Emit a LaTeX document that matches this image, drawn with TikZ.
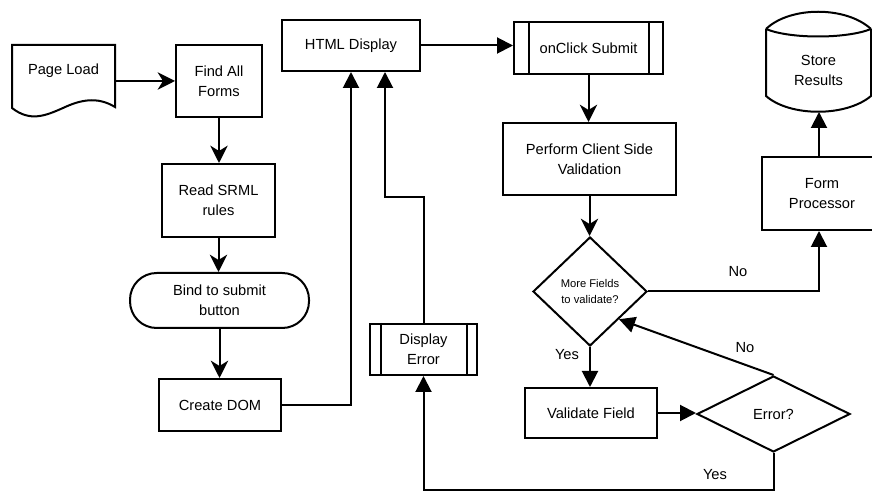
\documentclass[tikz,border=0pt]{standalone}
\usepackage{fontspec}
\setmainfont{Liberation Sans}
\usetikzlibrary{arrows.meta,shapes.geometric}

\begin{document}
\begin{tikzpicture}[x=0.75pt,y=-0.75pt,line width=1.5pt,
  every node/.style={font=\fontsize{11}{15}\selectfont,align=center,inner sep=0pt},
  flow/.style={draw,rectangle},
  sz/.style 2 args={minimum width=#1*0.75pt,minimum height=#2*0.75pt},
  decision/.style={draw,diamond},
  blk/.style={-{Triangle[length=12pt,width=12pt]}},
  stl/.style={-{Stealth[length=13pt,width=13pt,inset=4pt]}}]

\useasboundingbox (0,0) rectangle (872,491);

% document shape for the page load
\draw (12,45) -- (115,45) -- (115,107)
  .. controls (97,96) and (80,100) .. (63,108)
  .. controls (45,116) and (30,122) .. (12,108) -- cycle;
\node[sz={103}{52}] (pageload) at (63.5,71) {Page Load};

% storage cylinder
\draw (766,29) .. controls (790,6) and (846,6) .. (871,29);
\draw (766,29) .. controls (790,39) and (846,39) .. (871,29);
\draw (766,29) -- (766,96) .. controls (790,117) and (846,117) .. (871,96) -- (871,29);
\node (store) at (818.5,70) {Store\\Results};
\coordinate (storebot) at (819,112);

% process steps
\node[flow,sz={86}{72}]  (find)     at (219,81)     {Find All\\Forms};
\node[flow,sz={113}{73}] (read)     at (218.5,200.5){Read SRML\\rules};
\node[flow,rounded corners=20pt,sz={179}{55}] (bind) at (219.5,300.5) {Bind to submit\\button};
\node[flow,sz={122}{52}] (dom)      at (220,405)    {Create DOM};
\node[flow,sz={138}{51}] (html)     at (351,45.5)   {HTML Display};
\node[flow,sz={149}{52}] (onclick)  at (588.5,48)   {onClick Submit};
\node[flow,sz={173}{72}] (perform)  at (589.5,159)  {Perform Client Side\\Validation};
\node[decision,sz={114}{109},font=\fontsize{8.4}{12}\selectfont] (more) at (590,291.5) {More Fields\\to validate?};
\node[flow,sz={132}{50}] (validate) at (591,413)    {Validate Field};
\node[decision,sz={153}{76}] (error) at (773.5,414) {Error?};
\node[flow,sz={107}{51}] (derr)     at (423.5,349.5){Display\\Error};
\node[flow,sz={120}{73}] (proc)     at (822,193.5)  {Form\\Processor};
\coordinate (procaxis) at (819,193.5);

% predefined-process side bars
\draw ([xshift=12pt]onclick.north west) -- ([xshift=12pt]onclick.south west);
\draw ([xshift=-11.25pt]onclick.north east) -- ([xshift=-11.25pt]onclick.south east);
\draw ([xshift=9pt]derr.north west) -- ([xshift=9pt]derr.south west);
\draw ([xshift=-8.25pt]derr.north east) -- ([xshift=-8.25pt]derr.south east);

% branch labels
\node (noa)  at (738,272) {No};
\node (nob)  at (745,348) {No};
\node (yesa) at (567,355) {Yes};
\node (yesb) at (715,475) {Yes};

% connectors
\coordinate (bend) at (385,197);
\coordinate (floor) at (0,490);
\draw[stl] (pageload.east |- find.west) -- (find.west);
\draw[stl] (find.south) -- (find.south |- read.north);
\draw[stl] (read.south) -- (read.south |- bind.north);
\draw[stl] (bind.south) -- (bind.south |- dom.north);
\draw[blk] (dom.east) -| (html.south);
\draw[blk] (derr.north) |- (bend) -- (bend |- html.south);
\draw[blk] (html.east) -- (html.east -| onclick.west);
\draw[stl] (onclick.south) -- (onclick.south |- perform.north);
\draw[stl] (perform.south) -- (perform.south |- more.north);
\draw[blk] (more.east) -| (procaxis |- proc.south);
\draw[blk] (procaxis |- proc.north) -- (procaxis |- storebot);
\draw[blk] (more.south) -- (more.south |- validate.north);
\draw[blk] (validate.east) -- (validate.east -| error.west);
\draw[blk] (error.north) -- (more.south east);
\draw[blk] (error.south) -- (error.south |- floor) -| (derr.south);

\end{tikzpicture}
\end{document}
